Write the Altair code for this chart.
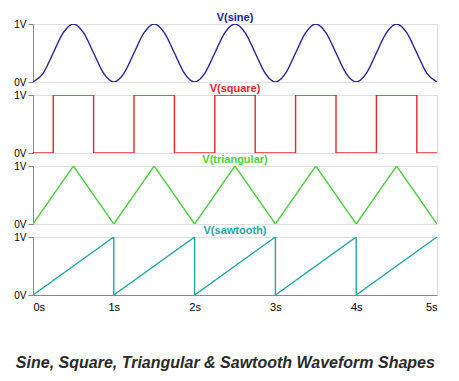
import altair as alt
import pandas as pd

# ---- data ----
sine_t = [0, 0.125, 0.25, 0.375, 0.5, 0.625, 0.75, 0.875,
          1, 1.125, 1.25, 1.375, 1.5, 1.625, 1.75, 1.875,
          2, 2.125, 2.25, 2.375, 2.5, 2.625, 2.75, 2.875,
          3, 3.125, 3.25, 3.375, 3.5, 3.625, 3.75, 3.875,
          4, 4.125, 4.25, 4.375, 4.5, 4.625, 4.75, 4.875, 5]
sine_v = [0, 0.15, 0.5, 0.85, 1, 0.85, 0.5, 0.15,
          0, 0.15, 0.5, 0.85, 1, 0.85, 0.5, 0.15,
          0, 0.15, 0.5, 0.85, 1, 0.85, 0.5, 0.15,
          0, 0.15, 0.5, 0.85, 1, 0.85, 0.5, 0.15,
          0, 0.15, 0.5, 0.85, 1, 0.85, 0.5, 0.15, 0]

square_t = [0, 0.25, 0.25, 0.75, 0.75, 1.25, 1.25, 1.75, 1.75, 2.25, 2.25,
            2.75, 2.75, 3.25, 3.25, 3.75, 3.75, 4.25, 4.25, 4.75, 4.75, 5]
square_v = [0, 0, 1, 1, 0, 0, 1, 1, 0, 0, 1,
            1, 0, 0, 1, 1, 0, 0, 1, 1, 0, 0]

tri_t = [0, 0.5, 1, 1.5, 2, 2.5, 3, 3.5, 4, 4.5, 5]
tri_v = [0, 1, 0, 1, 0, 1, 0, 1, 0, 1, 0]

saw_t = [0, 1, 1, 2, 2, 3, 3, 4, 4, 5]
saw_v = [0, 1, 0, 1, 0, 1, 0, 1, 0, 1]

x_ticks = [0, 1, 2, 3, 4, 5]
y_ticks = [0, 1]

titles = ["V(sine)", "V(square)", "V(triangular)", "V(sawtooth)"]
colors = ["#24249a", "#e0282e", "#4cd040", "#22a6a6"]
caption = "Sine, Square, Triangular & Sawtooth Waveform Shapes"

W, H = 404, 58


def frame(ts, vs):
    return pd.DataFrame({"t": ts, "v": vs, "i": list(range(len(ts)))})


def panel(df, title, color, show_x, interp="linear"):
    if show_x:
        xaxis = alt.Axis(values=x_ticks, labelExpr="datum.value + 's'", title=None,
                         grid=False, ticks=False, labelPadding=6, labelFontSize=11)
    else:
        xaxis = None
    line = alt.Chart(df).mark_line(
        color=color, strokeWidth=1.4, interpolate=interp, clip=True
    ).encode(
        x=alt.X("t:Q", scale=alt.Scale(domain=[0, 5], nice=False), axis=xaxis),
        y=alt.Y("v:Q", scale=alt.Scale(domain=[0, 1], nice=False),
                axis=alt.Axis(values=y_ticks, labelExpr="datum.value + 'V'",
                              title=None, grid=False, labelFontSize=10,
                              tickSize=5, labelPadding=2)),
        order="i:Q",
    )
    label = alt.Chart(pd.DataFrame({"label": [title]})).mark_text(
        color=color, fontSize=11, fontWeight="bold", font="Liberation Sans",
        baseline="middle", align="center"
    ).encode(text="label:N", x=alt.value(W / 2), y=alt.value(-6))
    return alt.layer(line, label).properties(width=W, height=H)


p1 = panel(frame(sine_t, sine_v), titles[0], colors[0], False, "monotone")
p2 = panel(frame(square_t, square_v), titles[1], colors[1], False)
p3 = panel(frame(tri_t, tri_v), titles[2], colors[2], False)
p4 = panel(frame(saw_t, saw_v), titles[3], colors[3], True)

chart = alt.vconcat(p1, p2, p3, p4, spacing=13, bounds="flush").properties(
    title=alt.TitleParams(caption, orient="bottom", anchor="middle", offset=42,
                          fontSize=16, fontWeight="bold", fontStyle="italic",
                          color="#2a2a2a", font="Liberation Sans"),
    padding={"left": 5, "top": 3, "right": 5, "bottom": 5},
).configure_view(stroke="#999999").configure_axis(
    labelColor="#9a9a9a", domainColor="#999999", tickColor="#999999",
    labelFont="Liberation Sans",
).configure(background="white")

chart.save("out.html", embed_options={"renderer": "svg", "actions": False})
